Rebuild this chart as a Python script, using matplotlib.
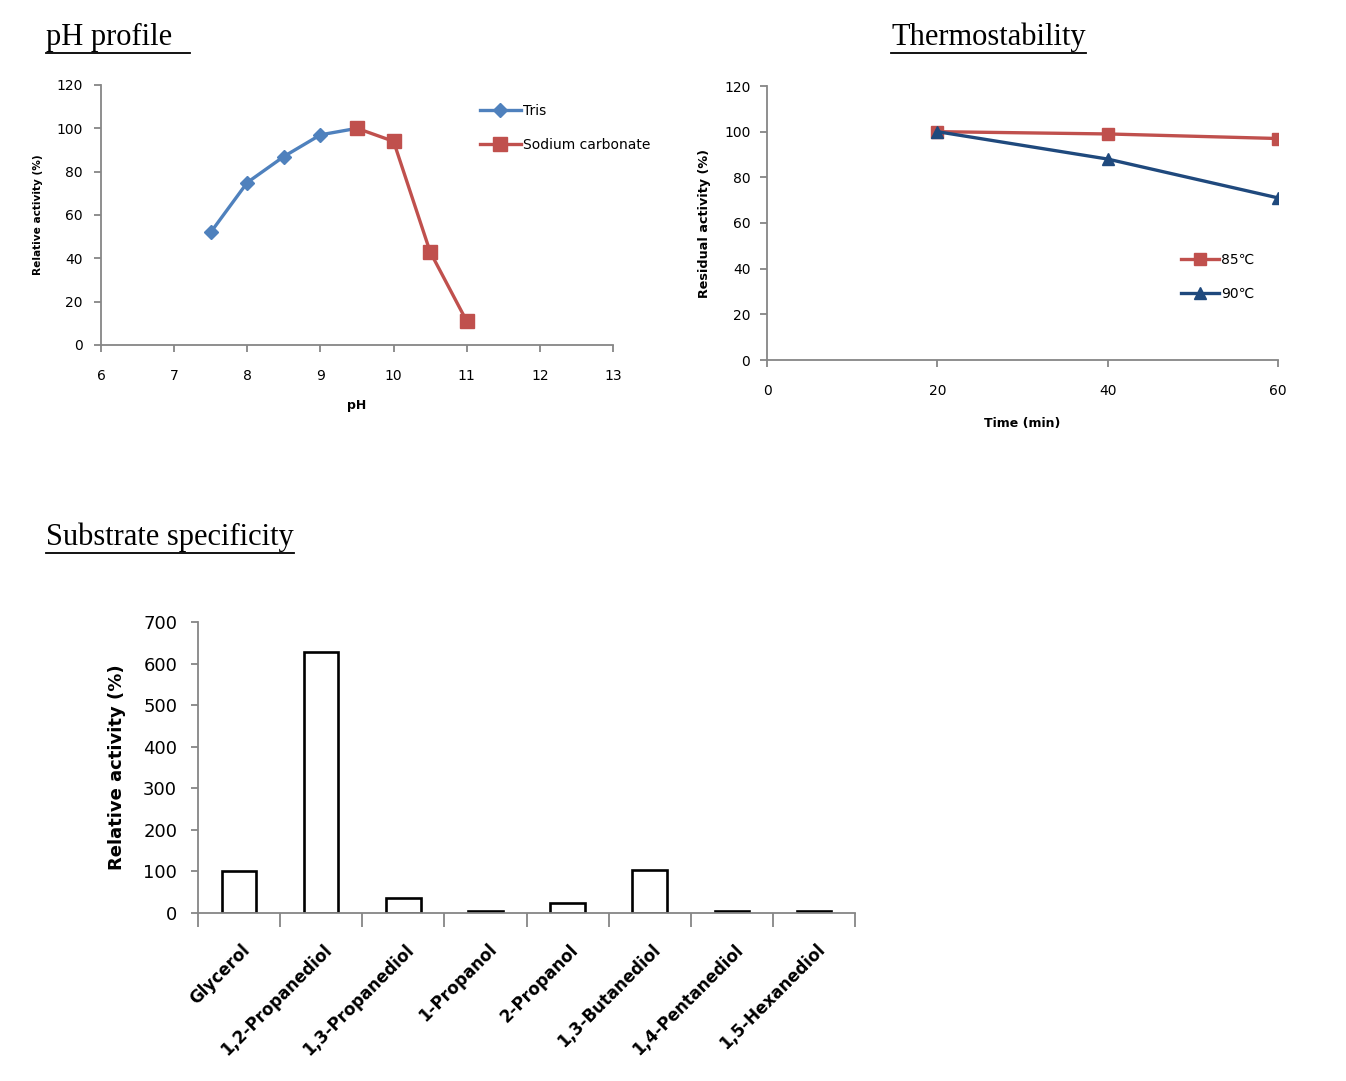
import numpy as np
import matplotlib
matplotlib.use("Agg")
import matplotlib.pyplot as plt
from matplotlib.lines import Line2D
from matplotlib.ticker import MultipleLocator
import matplotlib.transforms as mtransforms

W, H = 1346, 1081

# pH profile
tris_ph = [7.5, 8.0, 8.5, 9.0, 9.5]
tris_act = [52, 75, 87, 97, 100]
carb_ph = [9.5, 10.0, 10.5, 11.0]
carb_act = [100, 94, 43, 11]

# Thermostability
time_min = [20, 40, 60]
res_85 = [100, 99, 97]
res_90 = [100, 88, 71]

# Substrate specificity
substrates = ["Glycerol", "1,2-Propanediol", "1,3-Propanediol", "1-Propanol",
              "2-Propanol", "1,3-Butanediol", "1,4-Pentanediol", "1,5-Hexanediol"]
sub_act = [100, 628, 35, 5, 25, 103, 4, 4]

BLUE = "#4F81BD"
RED = "#C0504D"
NAVY = "#1F497D"
GRAY = "#868686"

plt.rcParams["font.family"] = ["DejaVu Sans"]


def px(x, y, w, h):
    return [x / W, 1 - (y + h) / H, w / W, h / H]


def style_axes(ax):
    for s in ["top", "right"]:
        ax.spines[s].set_visible(False)
    for s in ["left", "bottom"]:
        ax.spines[s].set_color(GRAY)
        ax.spines[s].set_linewidth(1.3)
    ax.tick_params(colors=GRAY, width=1.3, length=5, labelcolor="black")


fig = plt.figure(figsize=(W / 100, H / 100), dpi=100)

# --- pH profile ---
ax1 = fig.add_axes(px(101, 85, 512, 260))
style_axes(ax1)
ax1.plot(tris_ph, tris_act, color=BLUE, lw=2.4, marker="D", ms=7, label="Tris")
ax1.plot(carb_ph, carb_act, color=RED, lw=2.4, marker="s", ms=10, label="Sodium carbonate")
ax1.set_xlim(6, 13)
ax1.set_ylim(0, 120)
ax1.xaxis.set_major_locator(MultipleLocator(1))
ax1.yaxis.set_major_locator(MultipleLocator(20))
ax1.tick_params(axis="both", labelsize=10)
ax1.tick_params(axis="x", pad=12)
ax1.tick_params(axis="y", pad=8)
ax1.set_xlabel("pH", fontsize=9, fontweight="bold", labelpad=12)
ax1.set_ylabel("Relative activity (%)", fontsize=7.6, fontweight="bold", labelpad=10)
ax1.legend(loc="upper left", bbox_to_anchor=(0.73, 0.947), frameon=False, fontsize=10,
           handlelength=2.9, handletextpad=0.15, labelspacing=1.4, borderaxespad=0)

# --- Thermostability ---
ax2 = fig.add_axes(px(767, 86, 511, 274))
style_axes(ax2)
ax2.plot(time_min, res_85, color=RED, lw=2.4, marker="s", ms=9, label="85\u2103")
ax2.plot(time_min, res_90, color=NAVY, lw=2.4, marker="^", ms=9, label="90\u2103")
ax2.set_xlim(0, 60)
ax2.set_ylim(0, 120)
ax2.xaxis.set_major_locator(MultipleLocator(20))
ax2.yaxis.set_major_locator(MultipleLocator(20))
ax2.tick_params(axis="both", labelsize=10)
ax2.tick_params(axis="x", pad=12)
ax2.tick_params(axis="y", pad=7)
ax2.set_xlabel("Time (min)", fontsize=9, fontweight="bold", labelpad=14)
ax2.set_ylabel("Residual activity (%)", fontsize=9.2, fontweight="bold", labelpad=9)
ax2.legend(loc="upper left", bbox_to_anchor=(0.80, 0.41), frameon=False, fontsize=10,
           handlelength=2.7, handletextpad=0.15, labelspacing=1.4, borderaxespad=0)

# --- Substrate specificity ---
ax3 = fig.add_axes(px(198, 622, 657, 291))
style_axes(ax3)
xpos = np.arange(len(substrates))
ax3.bar(xpos, sub_act, width=0.42, color="white", edgecolor="black", linewidth=1.9)
ax3.set_xlim(-0.5, len(substrates) - 0.5)
ax3.set_ylim(0, 700)
ax3.yaxis.set_major_locator(MultipleLocator(100))
ax3.set_xticks(xpos)
ax3.set_xticks(np.arange(-0.5, len(substrates)), minor=True)
ax3.tick_params(axis="x", which="major", length=0, pad=4)
ax3.tick_params(axis="x", which="minor", length=10, colors=GRAY, width=1.3)
ax3.tick_params(axis="y", pad=10, labelsize=13)
ax3.set_xticklabels(substrates, rotation=45, ha="right", rotation_mode="anchor",
                    fontsize=12, fontweight="bold")
shift = mtransforms.ScaledTranslation(0.02, -0.22, fig.dpi_scale_trans)
for lab in ax3.get_xticklabels():
    lab.set_transform(lab.get_transform() + shift)
ax3.set_ylabel("Relative activity (%)", fontsize=13, fontweight="bold", labelpad=12)

# --- titles with underline ---
titles = [("pH profile", 46, 45, 18), ("Thermostability", 891, 45, 0),
          ("Substrate specificity", 46, 545, 0)]
fig.canvas.draw()
renderer = fig.canvas.get_renderer()
for txt, x, y, extra in titles:
    t = fig.text(x / W, 1 - y / H, txt, fontsize=22, family="Liberation Serif",
                 ha="left", va="baseline")
    bb = t.get_window_extent(renderer=renderer)
    uy = bb.y0 - 1
    fig.add_artist(Line2D([bb.x0 / W, (bb.x1 + extra) / W], [uy / H, uy / H],
                          color="black", lw=1.3))

fig.savefig("out.png", dpi=100)
